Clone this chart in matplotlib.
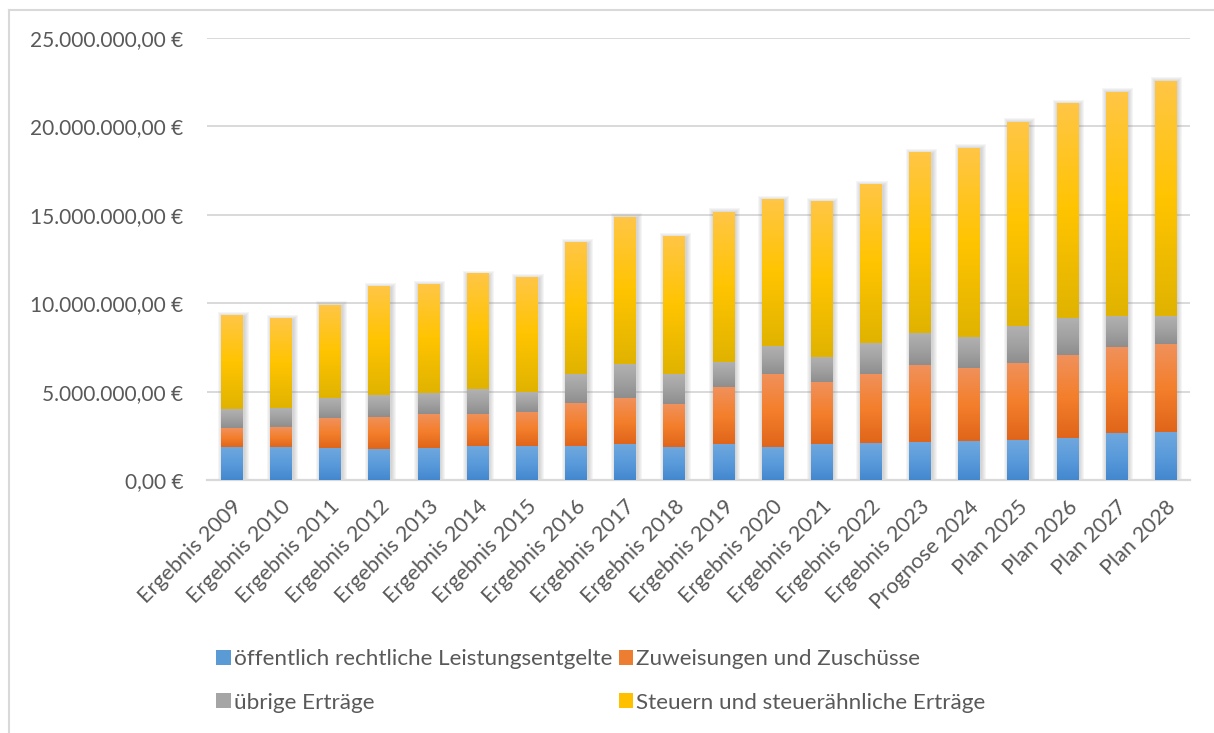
import numpy as np
import matplotlib
matplotlib.use("Agg")
import matplotlib.pyplot as plt
from matplotlib.colors import LinearSegmentedColormap
from matplotlib.patches import Rectangle
from matplotlib.lines import Line2D
from matplotlib.ticker import FuncFormatter

# data (EUR)
years = ["Ergebnis 2009", "Ergebnis 2010", "Ergebnis 2011", "Ergebnis 2012", "Ergebnis 2013",
         "Ergebnis 2014", "Ergebnis 2015", "Ergebnis 2016", "Ergebnis 2017", "Ergebnis 2018",
         "Ergebnis 2019", "Ergebnis 2020", "Ergebnis 2021", "Ergebnis 2022", "Ergebnis 2023",
         "Prognose 2024", "Plan 2025", "Plan 2026", "Plan 2027", "Plan 2028"]
leistungsentgelte = [1.87, 1.87, 1.81, 1.75, 1.81, 1.92, 1.92, 1.92, 2.04, 1.87,
                     2.04, 1.87, 2.04, 2.09, 2.15, 2.20, 2.26, 2.38, 2.66, 2.72]
zuweisungen = [1.07, 1.13, 1.69, 1.81, 1.92, 1.81, 1.93, 2.43, 2.60, 2.43,
               3.22, 4.13, 3.50, 3.91, 4.35, 4.13, 4.36, 4.69, 4.86, 4.97]
uebrige = [1.06, 1.09, 1.16, 1.24, 1.19, 1.40, 1.13, 1.66, 1.94, 1.71,
           1.43, 1.60, 1.42, 1.75, 1.81, 1.76, 2.11, 2.11, 1.77, 1.60]
steuern = [5.28, 5.07, 5.24, 6.12, 6.11, 6.52, 6.45, 7.45, 8.30, 7.79,
           8.47, 8.29, 8.82, 8.99, 10.19, 10.69, 11.52, 12.14, 12.66, 13.28]
yticks = [0, 5e6, 10e6, 15e6, 20e6, 25e6]

series = [
    ("öffentlich rechtliche Leistungsentgelte", leistungsentgelte, ["#4387CE", "#5A9BDB", "#70A8DE"], "#5B9BD5"),
    ("Zuweisungen und Zuschüsse", zuweisungen, ["#E0651A", "#F47F2C", "#F0915C"], "#ED7D31"),
    ("übrige Erträge", uebrige, ["#8E8E8E", "#A2A2A2", "#B2B2B2"], "#A5A5A5"),
    ("Steuern und steuerähnliche Erträge", steuern, ["#E0B300", "#FFC400", "#FFC646"], "#FFC000"),
]

text_col = "#595959"
grid_col = "#D9D9D9"
plt.rcParams["font.family"] = ["Lato", "DejaVu Sans"]

fig = plt.figure(figsize=(12.14, 7.33), dpi=100)
ax = fig.add_axes([207 / 1214, 1 - 480 / 733, (1190 - 207) / 1214, (480 - 38) / 733])

x = np.arange(len(years))
width = 0.43
px_x = 1 / 49.2          # one pixel in category units
px_y = 25e6 / 442        # one pixel in data units

# soft shadow behind each full stack
totals = np.sum([np.array(s[1]) for s in series], axis=0) * 1e6
for xi, tot in zip(x, totals):
    for k in range(1, 6):
        ax.add_patch(Rectangle((xi - width / 2 - k * px_x + 1.5 * px_x, 0),
                               width + 2 * k * px_x, tot + k * px_y - 1.5 * px_y,
                               facecolor="#7F7F7F", edgecolor="none", alpha=0.07, zorder=2))

bottom = np.zeros(len(years))
handles = []
for name, vals, grad, solid in series:
    vals = np.array(vals) * 1e6
    bars = ax.bar(x, vals, width, bottom=bottom, color="none", edgecolor="none", zorder=3)
    cmap = LinearSegmentedColormap.from_list(name, grad)
    g = np.linspace(0, 1, 256).reshape(-1, 1)
    for b in bars:
        x0, y0 = b.get_x(), b.get_y()
        ax.imshow(g, cmap=cmap, aspect="auto", origin="lower", interpolation="bilinear",
                  extent=[x0, x0 + b.get_width(), y0, y0 + b.get_height()], zorder=3)
    handles.append(Rectangle((0, 0), 1, 1, facecolor=solid, edgecolor="none"))
    bottom += vals

ax.set_xlim(-0.5, len(years) - 0.5)
ax.set_ylim(0, 25e6)
ax.set_yticks(yticks)
ax.yaxis.set_major_formatter(FuncFormatter(
    lambda v, p: f"{v:,.2f} €".replace(",", "X").replace(".", ",").replace("X", ".")))
ax.grid(axis="y", color=grid_col, linewidth=1.4, zorder=0)
ax.set_axisbelow(True)
for s in ["top", "right", "left"]:
    ax.spines[s].set_visible(False)
ax.spines["bottom"].set_color(grid_col)
ax.spines["bottom"].set_linewidth(1.6)
ax.tick_params(axis="y", length=0, pad=17, labelsize=15, labelcolor=text_col)
ax.tick_params(axis="x", length=0, pad=12, labelsize=15.5, labelcolor=text_col)
ax.set_xticks(x)
ax.set_xticklabels(years, rotation=45, ha="right", rotation_mode="anchor")

order = [0, 2, 1, 3]
fig.legend([handles[i] for i in order], [series[i][0] for i in order],
           loc="upper left", bbox_to_anchor=(196 / 1214, 1 - 629 / 733), ncol=2,
           frameon=False, fontsize=16.2, labelcolor=text_col,
           handlelength=0.65, handleheight=0.65, handletextpad=0.12,
           columnspacing=0.3, labelspacing=1.05)

# chart area frame (left and top edges visible)
fig.add_artist(Line2D([9 / 1214, 9 / 1214], [0, 1 - 10 / 733], transform=fig.transFigure,
                      color=grid_col, linewidth=1.5))
fig.add_artist(Line2D([9 / 1214, 1], [1 - 10 / 733, 1 - 10 / 733], transform=fig.transFigure,
                      color=grid_col, linewidth=1.5))

fig.savefig("out.png", dpi=100)
